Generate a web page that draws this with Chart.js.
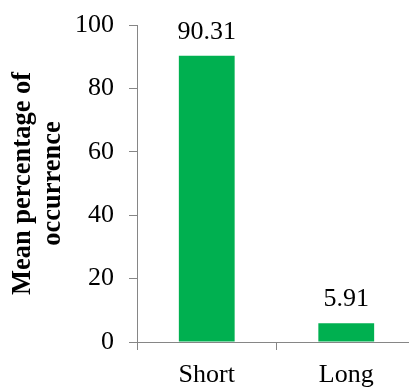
<!DOCTYPE html>
<html>
<head>
<meta charset="utf-8">
<script src="https://cdn.jsdelivr.net/npm/chart.js@4/dist/chart.umd.min.js"></script>
<style>
  html, body { margin: 0; padding: 0; background: #ffffff; overflow: hidden; }
  #wrap { width: 420px; height: 388px; }
</style>
</head>
<body>
<div id="wrap"><canvas id="c" width="420" height="388"></canvas></div>
<script>
const categories = ["Short", "Long"];
const meanValues = [90.31, 5.91];
const yTickLabels = [0, 20, 40, 60, 80, 100];

const SERIF = '"Liberation Serif", "Times New Roman", serif';
const AXIS_GREY = '#868686';

// Writes each bar's value just above its top edge
const valueLabels = {
  id: 'valueLabels',
  afterDatasetsDraw(chart) {
    const ctx = chart.ctx;
    const meta = chart.getDatasetMeta(0);
    ctx.save();
    ctx.font = '26px ' + SERIF;
    ctx.fillStyle = '#000000';
    ctx.textAlign = 'center';
    ctx.textBaseline = 'alphabetic';
    meta.data.forEach((bar, i) => {
      ctx.fillText(meanValues[i].toFixed(2), bar.x, bar.y - 17);
    });
    ctx.restore();
  }
};

new Chart(document.getElementById('c'), {
  type: 'bar',
  data: {
    labels: categories,
    datasets: [{
      data: meanValues,
      backgroundColor: '#00B050',
      borderWidth: 0,
      categoryPercentage: 1.0,
      barPercentage: 0.4
    }]
  },
  options: {
    responsive: false,
    animation: false,
    devicePixelRatio: 1,
    layout: { padding: { top: 25, right: 4, left: 0, bottom: 0 } },
    plugins: {
      legend: { display: false },
      tooltip: { enabled: false }
    },
    scales: {
      x: {
        offset: true,
        grid: {
          offset: true,
          drawOnChartArea: false,
          drawTicks: true,
          tickLength: 8,
          color: AXIS_GREY,
          lineWidth: 1
        },
        border: { color: AXIS_GREY, width: 1 },
        ticks: {
          color: '#000000',
          font: { family: SERIF, size: 26 },
          padding: 10,
          maxRotation: 0
        },
        afterFit(scale) {
          scale.height = 46;
          scale.paddingLeft = 0;
          scale.paddingRight = 0;
        }
      },
      y: {
        min: 0,
        max: 100,
        afterBuildTicks(scale) {
          scale.ticks = yTickLabels.map(v => ({ value: v }));
        },
        grid: {
          drawOnChartArea: false,
          drawTicks: true,
          tickLength: 8,
          color: AXIS_GREY,
          lineWidth: 1
        },
        border: { color: AXIS_GREY, width: 1 },
        ticks: {
          color: '#000000',
          font: { family: SERIF, size: 26 },
          padding: 15
        },
        title: {
          display: true,
          text: ['Mean percentage of', 'occurrence'],
          color: '#000000',
          font: { family: SERIF, size: 26.5, weight: 'bold', lineHeight: 1.13 },
          padding: { top: 8, bottom: 0 }
        },
        afterFit(scale) {
          scale.width = 137;
          scale.paddingTop = 0;
          scale.paddingBottom = 0;
        }
      }
    }
  },
  plugins: [valueLabels]
});
</script>
</body>
</html>
